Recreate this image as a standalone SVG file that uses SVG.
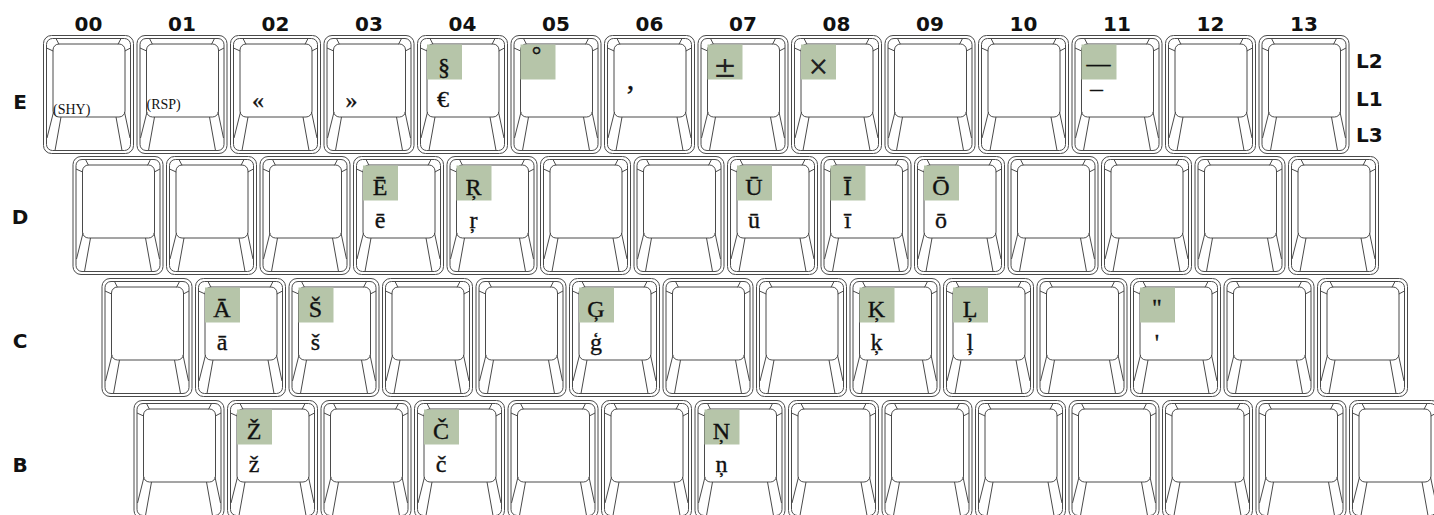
<svg xmlns="http://www.w3.org/2000/svg" xmlns:xlink="http://www.w3.org/1999/xlink" width="1434" height="515" viewBox="0 0 1434 515">
<style>
.cap{fill:none;stroke:#4a4a4a;stroke-width:1}
.hl{fill:#b6c5a9}
.up,.lo{font-family:"Liberation Serif","Times New Roman",serif;font-size:24px;fill:#111;stroke:#111;stroke-width:0.35;text-anchor:middle}
.sans{font-family:"DejaVu Sans",sans-serif;fill:#222;text-anchor:middle}
.small{font-family:"Liberation Serif",serif;font-size:14px;fill:#111}
.lbl{font-family:"DejaVu Sans","Liberation Sans",sans-serif;font-weight:bold;font-size:20px;fill:#111}
.col{text-anchor:middle}
</style>
<defs>
<g id="keycap" class="cap">
<rect x="0.5" y="0.5" width="90" height="118" rx="8"/>
<rect x="3.5" y="3.5" width="84" height="112" rx="6"/>
<rect x="10" y="9" width="72" height="73" rx="6"/>
<path d="M13 3.5L16 9.3M3.5 13L10.2 16M78 3.5L75 9.3M87.5 13L81.8 16M10.5 77L4 103M18 82L12 115.5M81.5 77L87 103M73 82L79 115.5"/>
</g>
<rect id="hlbox" class="hl" x="10" y="9.5" width="35" height="35"/>
</defs>
<rect width="1434" height="515" fill="#fff"/>
<g id="labels">
<text class="lbl col" x="88.5" y="31">00</text>
<text class="lbl col" x="182" y="31">01</text>
<text class="lbl col" x="275.5" y="31">02</text>
<text class="lbl col" x="369" y="31">03</text>
<text class="lbl col" x="462.5" y="31">04</text>
<text class="lbl col" x="556" y="31">05</text>
<text class="lbl col" x="649.5" y="31">06</text>
<text class="lbl col" x="743" y="31">07</text>
<text class="lbl col" x="836.5" y="31">08</text>
<text class="lbl col" x="930" y="31">09</text>
<text class="lbl col" x="1023.5" y="31">10</text>
<text class="lbl col" x="1117" y="31">11</text>
<text class="lbl col" x="1210.5" y="31">12</text>
<text class="lbl col" x="1304" y="31">13</text>
<text class="lbl col" x="20" y="108.5">E</text>
<text class="lbl col" x="20" y="223.5">D</text>
<text class="lbl col" x="20" y="347.5">C</text>
<text class="lbl col" x="20" y="471.5">B</text>
<text class="lbl" x="1356" y="68">L2</text>
<text class="lbl" x="1356" y="106">L1</text>
<text class="lbl" x="1356" y="142">L3</text>
</g>
<g id="connectors"/>
<g id="row-E">
<g id="key-E00" transform="translate(43,35)"><use href="#keycap"/><text class="small" x="10" y="79">(SHY)</text></g>
<g id="key-E01" transform="translate(136.5,35)"><use href="#keycap"/><text class="small" x="10" y="74">(RSP)</text></g>
<g id="key-E02" transform="translate(230,35)"><use href="#keycap"/><text class="lo" x="28" y="73">«</text></g>
<g id="key-E03" transform="translate(323.5,35)"><use href="#keycap"/><text class="lo" x="28" y="73">»</text></g>
<g id="key-E04" transform="translate(417,35)"><use href="#keycap"/><use href="#hlbox"/><text class="up" x="27" y="40">§</text><text class="lo" x="26" y="72">€</text></g>
<g id="key-E05" transform="translate(510.5,35)"><use href="#keycap"/><use href="#hlbox"/><text class="up" x="26" y="28">°</text></g>
<g id="key-E06" transform="translate(604,35)"><use href="#keycap"/><text class="lo" x="26.5" y="54" style="font-size:30px">,</text></g>
<g id="key-E07" transform="translate(697.5,35)"><use href="#keycap"/><use href="#hlbox"/><text class="sans" x="27.5" y="41.7" style="font-size:28px">±</text></g>
<g id="key-E08" transform="translate(791,35)"><use href="#keycap"/><use href="#hlbox"/><text class="sans" x="27.5" y="40" style="font-size:26px">×</text></g>
<g id="key-E09" transform="translate(884.5,35)"><use href="#keycap"/></g>
<g id="key-E10" transform="translate(978,35)"><use href="#keycap"/></g>
<g id="key-E11" transform="translate(1071.5,35)"><use href="#keycap"/><use href="#hlbox"/><text class="up" x="27" y="36">—</text><text class="lo" x="25" y="60" style="font-size:18px" textLength="12.5" lengthAdjust="spacingAndGlyphs">–</text></g>
<g id="key-E12" transform="translate(1165,35)"><use href="#keycap"/></g>
<g id="key-E13" transform="translate(1258.5,35)"><use href="#keycap"/></g>
</g>
<g id="row-D">
<g id="key-D00" transform="translate(72.5,156)"><use href="#keycap"/></g>
<g id="key-D01" transform="translate(166,156)"><use href="#keycap"/></g>
<g id="key-D02" transform="translate(259.5,156)"><use href="#keycap"/></g>
<g id="key-D03" transform="translate(353,156)"><use href="#keycap"/><use href="#hlbox"/><text class="up" x="27" y="39">Ē</text><text class="lo" x="27" y="72">ē</text></g>
<g id="key-D04" transform="translate(446.5,156)"><use href="#keycap"/><use href="#hlbox"/><text class="up" x="27" y="39">Ŗ</text><text class="lo" x="27" y="72">ŗ</text></g>
<g id="key-D05" transform="translate(540,156)"><use href="#keycap"/></g>
<g id="key-D06" transform="translate(633.5,156)"><use href="#keycap"/></g>
<g id="key-D07" transform="translate(727,156)"><use href="#keycap"/><use href="#hlbox"/><text class="up" x="27" y="39">Ū</text><text class="lo" x="27" y="72">ū</text></g>
<g id="key-D08" transform="translate(820.5,156)"><use href="#keycap"/><use href="#hlbox"/><text class="up" x="27" y="39">Ī</text><text class="lo" x="27" y="72">ī</text></g>
<g id="key-D09" transform="translate(914,156)"><use href="#keycap"/><use href="#hlbox"/><text class="up" x="27" y="39">Ō</text><text class="lo" x="27" y="72">ō</text></g>
<g id="key-D10" transform="translate(1007.5,156)"><use href="#keycap"/></g>
<g id="key-D11" transform="translate(1101,156)"><use href="#keycap"/></g>
<g id="key-D12" transform="translate(1194.5,156)"><use href="#keycap"/></g>
<g id="key-D13" transform="translate(1288,156)"><use href="#keycap"/></g>
</g>
<g id="row-C">
<g id="key-C00" transform="translate(101.5,278)"><use href="#keycap"/></g>
<g id="key-C01" transform="translate(195,278)"><use href="#keycap"/><use href="#hlbox"/><text class="up" x="27" y="39">Ā</text><text class="lo" x="27" y="72">ā</text></g>
<g id="key-C02" transform="translate(288.5,278)"><use href="#keycap"/><use href="#hlbox"/><text class="up" x="27" y="39">Š</text><text class="lo" x="27" y="72">š</text></g>
<g id="key-C03" transform="translate(382,278)"><use href="#keycap"/></g>
<g id="key-C04" transform="translate(475.5,278)"><use href="#keycap"/></g>
<g id="key-C05" transform="translate(569,278)"><use href="#keycap"/><use href="#hlbox"/><text class="up" x="27" y="39">Ģ</text><text class="lo" x="27" y="72">ģ</text></g>
<g id="key-C06" transform="translate(662.5,278)"><use href="#keycap"/></g>
<g id="key-C07" transform="translate(756,278)"><use href="#keycap"/></g>
<g id="key-C08" transform="translate(849.5,278)"><use href="#keycap"/><use href="#hlbox"/><text class="up" x="27" y="39">Ķ</text><text class="lo" x="27" y="72">ķ</text></g>
<g id="key-C09" transform="translate(943,278)"><use href="#keycap"/><use href="#hlbox"/><text class="up" x="27" y="39">Ļ</text><text class="lo" x="27" y="72">ļ</text></g>
<g id="key-C10" transform="translate(1036.5,278)"><use href="#keycap"/></g>
<g id="key-C11" transform="translate(1130,278)"><use href="#keycap"/><use href="#hlbox"/><text class="up" x="27" y="37">"</text><text class="lo" x="27" y="72">'</text></g>
<g id="key-C12" transform="translate(1223.5,278)"><use href="#keycap"/></g>
<g id="key-C13" transform="translate(1317,278)"><use href="#keycap"/></g>
</g>
<g id="row-B">
<g id="key-B00" transform="translate(133.5,400)"><use href="#keycap"/></g>
<g id="key-B01" transform="translate(227,400)"><use href="#keycap"/><use href="#hlbox"/><text class="up" x="27" y="39">Ž</text><text class="lo" x="27" y="72">ž</text></g>
<g id="key-B02" transform="translate(320.5,400)"><use href="#keycap"/></g>
<g id="key-B03" transform="translate(414,400)"><use href="#keycap"/><use href="#hlbox"/><text class="up" x="27" y="39">Č</text><text class="lo" x="27" y="72">č</text></g>
<g id="key-B04" transform="translate(507.5,400)"><use href="#keycap"/></g>
<g id="key-B05" transform="translate(601,400)"><use href="#keycap"/></g>
<g id="key-B06" transform="translate(694.5,400)"><use href="#keycap"/><use href="#hlbox"/><text class="up" x="27" y="39">Ņ</text><text class="lo" x="27" y="72">ņ</text></g>
<g id="key-B07" transform="translate(788,400)"><use href="#keycap"/></g>
<g id="key-B08" transform="translate(881.5,400)"><use href="#keycap"/></g>
<g id="key-B09" transform="translate(975,400)"><use href="#keycap"/></g>
<g id="key-B10" transform="translate(1068.5,400)"><use href="#keycap"/></g>
<g id="key-B11" transform="translate(1162,400)"><use href="#keycap"/></g>
<g id="key-B12" transform="translate(1255.5,400)"><use href="#keycap"/></g>
<g id="key-B13" transform="translate(1349,400)"><use href="#keycap"/></g>
</g>
</svg>
